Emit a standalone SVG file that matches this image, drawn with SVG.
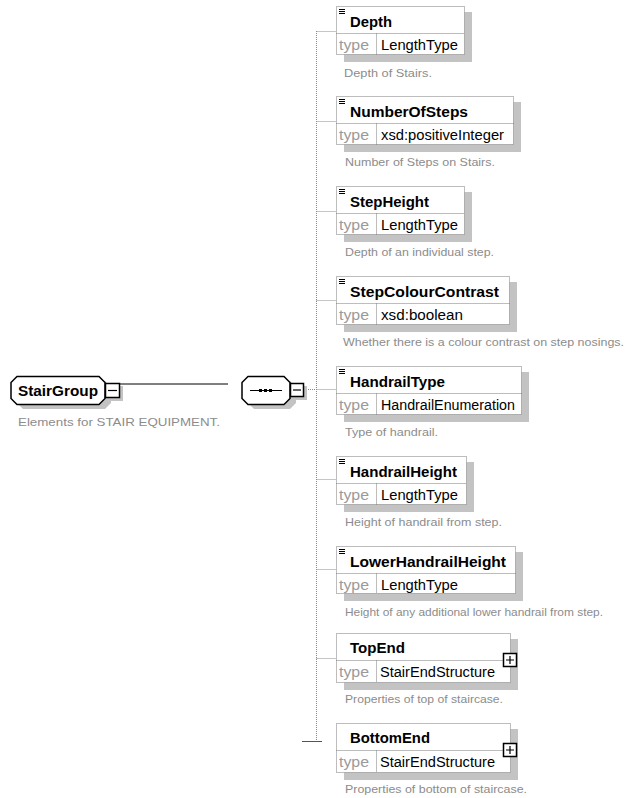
<svg xmlns="http://www.w3.org/2000/svg" width="625" height="798" viewBox="0 0 625 798">
  <defs>
    <style>
      .bg { fill: #ffffff; }
      .shadow { fill: #c3c3c3; stroke: none; }
      .box { fill: #ffffff; stroke: #7a7a7a; stroke-width: 1; stroke-dasharray: 1 1; }
      .div { stroke: #7a7a7a; stroke-width: 1; stroke-dasharray: 1 1; fill: none; }
      .conn { stroke: #8a8a8a; stroke-width: 1; stroke-dasharray: 1 1; fill: none; }
      .solid { stroke: #000000; stroke-width: 1; fill: none; }
      .tick { stroke: #555555; stroke-width: 1; fill: none; }
      .oct { fill: #ffffff; stroke: #000000; stroke-width: 1.5; }
      .octsh { fill: #c3c3c3; }
      .btn { fill: #ffffff; stroke: #000000; stroke-width: 1.5; }
      .glyph { stroke: #000000; stroke-width: 1.2; fill: none; }
      .name { font-family: "Liberation Sans", Arial, sans-serif; font-weight: bold; font-size: 14px; fill: #000000; }
      .tlabel { font-family: "Liberation Sans", Arial, sans-serif; font-size: 14px; fill: #9a9a9a; }
      .tval { font-family: "Liberation Sans", Arial, sans-serif; font-size: 14px; fill: #000000; }
      .desc { font-family: "Liberation Sans", Arial, sans-serif; font-size: 11px; fill: #8c8c8c; }
    </style>
    <!-- element icon: three short bars -->
    <g id="elIcon">
      <path d="M0 0.5 H6 M0 2.5 H6 M0 4.5 H6" stroke="#000" stroke-width="1" fill="none"/>
    </g>
  </defs>

  <rect class="bg" x="0" y="0" width="625" height="798"/>

  <!-- connectors -->
  <g id="connectors">
    <line class="solid" x1="120" y1="384" x2="228" y2="384"/>
    <line class="conn" x1="304" y1="389.5" x2="316.5" y2="389.5"/>
    <line class="conn" x1="316.5" y1="31" x2="316.5" y2="741"/>
    <line class="conn" x1="316.5" y1="31.5" x2="336" y2="31.5"/>
    <line class="conn" x1="316.5" y1="121.5" x2="336" y2="121.5"/>
    <line class="conn" x1="316.5" y1="211.5" x2="336" y2="211.5"/>
    <line class="conn" x1="316.5" y1="300.5" x2="336" y2="300.5"/>
    <line class="conn" x1="316.5" y1="389.5" x2="336" y2="389.5"/>
    <line class="conn" x1="316.5" y1="479.5" x2="336" y2="479.5"/>
    <line class="conn" x1="316.5" y1="569.5" x2="336" y2="569.5"/>
    <line class="conn" x1="316.5" y1="658.5" x2="336" y2="658.5"/>
    <line class="tick" x1="302" y1="741.5" x2="322" y2="741.5"/>
  </g>

  <!-- StairGroup -->
  <g id="StairGroup">
    <polygon class="octsh" points="23,381 105,381 111,387 111,403 105,409 23,409 17,403 17,387"/>
    <polygon class="oct" points="17,376.5 99,376.5 105,382.5 105,398.5 99,404.5 17,404.5 11,398.5 11,382.5"/>
    <rect class="octsh" x="108" y="386" width="15" height="15"/>
    <rect class="btn" x="105.5" y="383.5" width="14" height="14"/>
    <line class="glyph" x1="108" y1="390.5" x2="117" y2="390.5"/>
    <text class="name" x="18" y="396" textLength="80" lengthAdjust="spacingAndGlyphs">StairGroup</text>
    <text class="desc" x="18" y="426" textLength="202" lengthAdjust="spacingAndGlyphs">Elements for STAIR EQUIPMENT.</text>
  </g>

  <!-- sequence compositor -->
  <g id="sequence">
    <polygon class="octsh" points="254,381 290,381 296,387 296,403 290,409 254,409 248,403 248,387"/>
    <polygon class="oct" points="248,376.5 284,376.5 290,382.5 290,398.5 284,404.5 248,404.5 242,398.5 242,382.5"/>
    <line class="solid" x1="250" y1="390.5" x2="282" y2="390.5"/>
    <rect x="259" y="389" width="3" height="3" fill="#000"/>
    <rect x="264" y="389" width="3" height="3" fill="#000"/>
    <rect x="269" y="389" width="3" height="3" fill="#000"/>
    <rect class="octsh" x="293" y="386" width="14" height="14"/>
    <rect class="btn" x="290.5" y="383.5" width="13" height="13"/>
    <line class="glyph" x1="293" y1="390" x2="301" y2="390"/>
  </g>

  <!-- Depth -->
  <g id="Depth">
    <rect class="shadow" x="344" y="12" width="128" height="50"/>
    <rect class="box" x="336.5" y="6.5" width="128" height="48"/>
    <line class="div" x1="336.5" y1="33.5" x2="464.5" y2="33.5"/>
    <line class="div" x1="376.5" y1="33.5" x2="376.5" y2="54.5"/>
    <use href="#elIcon" x="339" y="9"/>
    <text class="name" x="350" y="27" textLength="42" lengthAdjust="spacingAndGlyphs">Depth</text>
    <text class="tlabel" x="339" y="50" textLength="30" lengthAdjust="spacingAndGlyphs">type</text>
    <text class="tval" x="381" y="50" textLength="77" lengthAdjust="spacingAndGlyphs">LengthType</text>
    <text class="desc" x="344" y="77" textLength="88" lengthAdjust="spacingAndGlyphs">Depth of Stairs.</text>
  </g>

  <!-- NumberOfSteps -->
  <g id="NumberOfSteps">
    <rect class="shadow" x="344" y="102" width="177" height="50"/>
    <rect class="box" x="336.5" y="96.5" width="177" height="48"/>
    <line class="div" x1="336.5" y1="123.5" x2="513.5" y2="123.5"/>
    <line class="div" x1="376.5" y1="123.5" x2="376.5" y2="144.5"/>
    <use href="#elIcon" x="339" y="99"/>
    <text class="name" x="350" y="117" textLength="118" lengthAdjust="spacingAndGlyphs">NumberOfSteps</text>
    <text class="tlabel" x="339" y="140" textLength="30" lengthAdjust="spacingAndGlyphs">type</text>
    <text class="tval" x="381" y="140" textLength="123" lengthAdjust="spacingAndGlyphs">xsd:positiveInteger</text>
    <text class="desc" x="345" y="166" textLength="150" lengthAdjust="spacingAndGlyphs">Number of Steps on Stairs.</text>
  </g>

  <!-- StepHeight -->
  <g id="StepHeight">
    <rect class="shadow" x="344" y="192" width="128" height="50"/>
    <rect class="box" x="336.5" y="186.5" width="128" height="48"/>
    <line class="div" x1="336.5" y1="213.5" x2="464.5" y2="213.5"/>
    <line class="div" x1="376.5" y1="213.5" x2="376.5" y2="234.5"/>
    <use href="#elIcon" x="339" y="189"/>
    <text class="name" x="350" y="207" textLength="79" lengthAdjust="spacingAndGlyphs">StepHeight</text>
    <text class="tlabel" x="339" y="230" textLength="30" lengthAdjust="spacingAndGlyphs">type</text>
    <text class="tval" x="381" y="230" textLength="77" lengthAdjust="spacingAndGlyphs">LengthType</text>
    <text class="desc" x="345" y="256" textLength="149" lengthAdjust="spacingAndGlyphs">Depth of an individual step.</text>
  </g>

  <!-- StepColourContrast -->
  <g id="StepColourContrast">
    <rect class="shadow" x="344" y="282" width="173" height="50"/>
    <rect class="box" x="336.5" y="276.5" width="173" height="48"/>
    <line class="div" x1="336.5" y1="303.5" x2="509.5" y2="303.5"/>
    <line class="div" x1="376.5" y1="303.5" x2="376.5" y2="324.5"/>
    <use href="#elIcon" x="339" y="279"/>
    <text class="name" x="350" y="297" textLength="149" lengthAdjust="spacingAndGlyphs">StepColourContrast</text>
    <text class="tlabel" x="339" y="320" textLength="30" lengthAdjust="spacingAndGlyphs">type</text>
    <text class="tval" x="381" y="320" textLength="82" lengthAdjust="spacingAndGlyphs">xsd:boolean</text>
    <text class="desc" x="343" y="346" textLength="281" lengthAdjust="spacingAndGlyphs">Whether there is a colour contrast on step nosings.</text>
  </g>

  <!-- HandrailType -->
  <g id="HandrailType">
    <rect class="shadow" x="344" y="372" width="185" height="50"/>
    <rect class="box" x="336.5" y="366.5" width="185" height="48"/>
    <line class="div" x1="336.5" y1="393.5" x2="521.5" y2="393.5"/>
    <line class="div" x1="376.5" y1="393.5" x2="376.5" y2="414.5"/>
    <use href="#elIcon" x="339" y="369"/>
    <text class="name" x="350" y="387" textLength="95" lengthAdjust="spacingAndGlyphs">HandrailType</text>
    <text class="tlabel" x="339" y="410" textLength="30" lengthAdjust="spacingAndGlyphs">type</text>
    <text class="tval" x="381" y="410" textLength="134" lengthAdjust="spacingAndGlyphs">HandrailEnumeration</text>
    <text class="desc" x="345" y="436" textLength="93" lengthAdjust="spacingAndGlyphs">Type of handrail.</text>
  </g>

  <!-- HandrailHeight -->
  <g id="HandrailHeight">
    <rect class="shadow" x="344" y="462" width="130" height="50"/>
    <rect class="box" x="336.5" y="456.5" width="130" height="48"/>
    <line class="div" x1="336.5" y1="483.5" x2="466.5" y2="483.5"/>
    <line class="div" x1="376.5" y1="483.5" x2="376.5" y2="504.5"/>
    <use href="#elIcon" x="339" y="459"/>
    <text class="name" x="350" y="477" textLength="107" lengthAdjust="spacingAndGlyphs">HandrailHeight</text>
    <text class="tlabel" x="339" y="500" textLength="30" lengthAdjust="spacingAndGlyphs">type</text>
    <text class="tval" x="381" y="500" textLength="77" lengthAdjust="spacingAndGlyphs">LengthType</text>
    <text class="desc" x="345" y="526" textLength="157" lengthAdjust="spacingAndGlyphs">Height of handrail from step.</text>
  </g>

  <!-- LowerHandrailHeight -->
  <g id="LowerHandrailHeight">
    <rect class="shadow" x="344" y="552" width="179" height="49"/>
    <rect class="box" x="336.5" y="546.5" width="179" height="47"/>
    <line class="div" x1="336.5" y1="573.5" x2="515.5" y2="573.5"/>
    <line class="div" x1="376.5" y1="573.5" x2="376.5" y2="593.5"/>
    <use href="#elIcon" x="339" y="549"/>
    <text class="name" x="350" y="567" textLength="156" lengthAdjust="spacingAndGlyphs">LowerHandrailHeight</text>
    <text class="tlabel" x="339" y="590" textLength="30" lengthAdjust="spacingAndGlyphs">type</text>
    <text class="tval" x="381" y="590" textLength="77" lengthAdjust="spacingAndGlyphs">LengthType</text>
    <text class="desc" x="345" y="616" textLength="258" lengthAdjust="spacingAndGlyphs">Height of any additional lower handrail from step.</text>
  </g>

  <!-- TopEnd -->
  <g id="TopEnd">
    <rect class="shadow" x="344" y="639" width="174" height="51"/>
    <rect class="box" x="336.5" y="633.5" width="174" height="49"/>
    <line class="div" x1="336.5" y1="660.5" x2="510.5" y2="660.5"/>
    <line class="div" x1="376.5" y1="660.5" x2="376.5" y2="682.5"/>
    <text class="name" x="350" y="653" textLength="55" lengthAdjust="spacingAndGlyphs">TopEnd</text>
    <text class="tlabel" x="339" y="677" textLength="30" lengthAdjust="spacingAndGlyphs">type</text>
    <text class="tval" x="380" y="677" textLength="115" lengthAdjust="spacingAndGlyphs">StairEndStructure</text>
    <rect class="btn" x="503.5" y="653.5" width="13" height="13"/>
    <path class="glyph" d="M506 660 H514 M510 656 V664"/>
    <text class="desc" x="345" y="703" textLength="158" lengthAdjust="spacingAndGlyphs">Properties of top of staircase.</text>
  </g>

  <!-- BottomEnd -->
  <g id="BottomEnd">
    <rect class="shadow" x="344" y="729" width="174" height="51"/>
    <rect class="box" x="336.5" y="723.5" width="174" height="49"/>
    <line class="div" x1="336.5" y1="750.5" x2="510.5" y2="750.5"/>
    <line class="div" x1="376.5" y1="750.5" x2="376.5" y2="772.5"/>
    <text class="name" x="350" y="743" textLength="80" lengthAdjust="spacingAndGlyphs">BottomEnd</text>
    <text class="tlabel" x="339" y="767" textLength="30" lengthAdjust="spacingAndGlyphs">type</text>
    <text class="tval" x="380" y="767" textLength="115" lengthAdjust="spacingAndGlyphs">StairEndStructure</text>
    <rect class="btn" x="503.5" y="743.5" width="13" height="13"/>
    <path class="glyph" d="M506 750 H514 M510 746 V754"/>
    <text class="desc" x="345" y="793" textLength="182" lengthAdjust="spacingAndGlyphs">Properties of bottom of staircase.</text>
  </g>
</svg>
